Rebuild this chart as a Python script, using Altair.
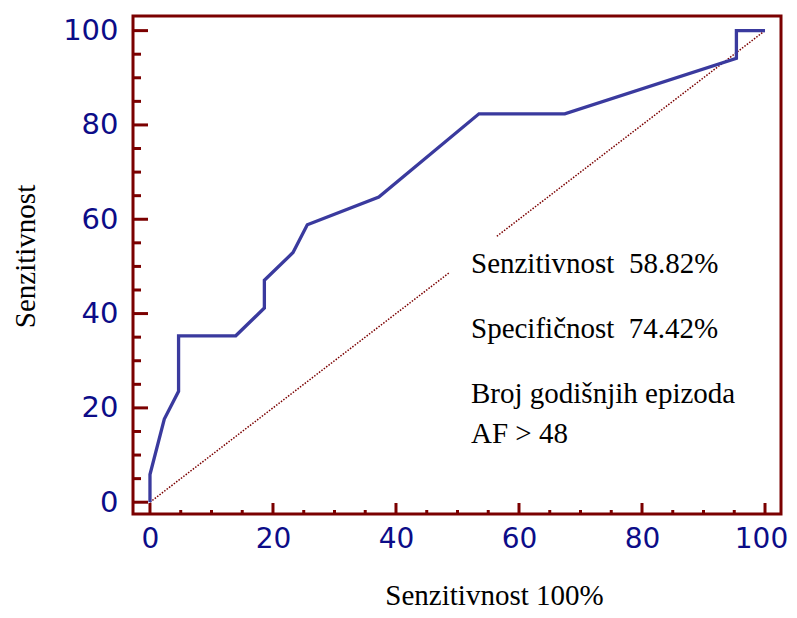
import altair as alt
import pandas as pd

# ROC curve (1 - specificity %, sensitivity %)
fpr = [0, 0, 2.33, 4.65, 4.65, 13.95, 18.60, 18.60, 23.26, 25.58, 37.21, 53.49, 67.44, 95.35, 95.35, 100]
tpr = [0, 5.88, 17.65, 23.53, 35.29, 35.29, 41.18, 47.06, 52.94, 58.82, 64.71, 82.35, 82.35, 94.12, 100, 100]

# reference diagonal, interrupted behind the text box
diag_x = [0, 48.6, 56.4, 100]
diag_seg = ["a", "a", "b", "b"]

major_ticks = [0, 20, 40, 60, 80, 100]
minor_ticks = [5, 10, 15, 25, 30, 35, 45, 50, 55, 65, 70, 75, 85, 90, 95]

notes = ["Senzitivnost\u00a0\u00a058.82%", "Specifičnost\u00a0\u00a074.42%", "Broj godišnjih epizoda", "AF > 48"]
note_y = [257, 322, 387, 427]

x_title = "Senzitivnost 100%"
y_title = "Senzitivnost"

DARKRED = "#7b0000"
NAVY = "#0c0c88"
BLUE = "#3a3a9e"

xs = alt.Scale(domain=[-2.76, 102.6], nice=False, zero=False)
ys = alt.Scale(domain=[-2.5, 103.1], nice=False, zero=False)

roc = pd.DataFrame({"x": fpr, "y": tpr, "order": list(range(len(fpr)))})
diag = pd.DataFrame({"x": diag_x, "y": diag_x, "seg": diag_seg})

W, H = 648, 498

base_x_axis = alt.Axis(
    values=major_ticks, ticks=False, tickSize=0, domain=False, grid=False,
    labelFont="DejaVu Sans", labelFontSize=28, labelColor=NAVY, labelPadding=11,
    labelOffset=alt.ExprRef(expr="datum.value == 100 ? -4 : 0"),
    title=x_title, titleFont="Liberation Serif", titleFontSize=29, titleFontWeight="normal",
    titleColor="black", titleX=361, titleY=90, titleBaseline="alphabetic", titleAlign="center",
)
base_y_axis = alt.Axis(
    values=major_ticks, ticks=False, tickSize=0, domain=False, grid=False,
    labelFont="DejaVu Sans", labelFontSize=29, labelColor=NAVY, labelPadding=15,
    labelBaseline="middle",
    title=y_title, titleFont="Liberation Serif", titleFontSize=29, titleFontWeight="normal",
    titleColor="black", titleX=-108, titleY=240, titleAngle=270, titleBaseline="middle",
    titleAlign="center",
)

diag_line = alt.Chart(diag).mark_line(
    color=DARKRED, strokeWidth=1.5, strokeDash=[1.5, 1.5]
).encode(
    x=alt.X("x:Q", scale=xs, axis=base_x_axis),
    y=alt.Y("y:Q", scale=ys, axis=base_y_axis),
    detail="seg:N",
)

roc_line = alt.Chart(roc).mark_line(color=BLUE, strokeWidth=3.3).encode(
    x=alt.X("x:Q", scale=xs),
    y=alt.Y("y:Q", scale=ys),
    order="order:Q",
)

maj = pd.DataFrame({"v": major_ticks})
mnr = pd.DataFrame({"v": minor_ticks})

def yticks(df, length):
    return alt.Chart(df).mark_rule(color=DARKRED, strokeWidth=3).encode(
        y=alt.Y("v:Q", scale=ys), x=alt.value(0), x2=alt.value(length)
    )

def xticks(df, length):
    return alt.Chart(df).mark_rule(color=DARKRED, strokeWidth=3).encode(
        x=alt.X("v:Q", scale=xs), y=alt.value(H), y2=alt.value(H - length)
    )

tick_layers = [yticks(maj, 15), yticks(mnr, 8), xticks(maj, 11), xticks(mnr, 4)]

note_layers = []
for t, yy in zip(notes, note_y):
    note_layers.append(
        alt.Chart(pd.DataFrame({"t": [t]})).mark_text(
            font="Liberation Serif", fontSize=29, color="black", align="left", baseline="alphabetic"
        ).encode(text="t:N", x=alt.value(338), y=alt.value(yy))
    )

chart = alt.layer(diag_line, roc_line, *tick_layers, *note_layers).properties(
    width=W, height=H,
    autosize=alt.AutoSizeParams(type="none"),
    padding={"left": 125, "top": 8, "right": 8, "bottom": 96},
).configure(
    background="white"
).configure_view(
    stroke=DARKRED, strokeWidth=3
)

chart.save("out.html", embed_options={"renderer": "svg", "actions": False})
